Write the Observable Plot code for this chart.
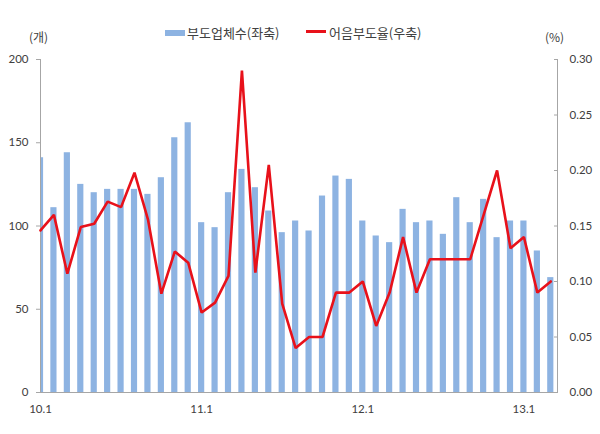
<!DOCTYPE html>
<html><head><meta charset="utf-8">
<script src="https://cdn.jsdelivr.net/npm/d3@7"></script>
<script src="https://cdn.jsdelivr.net/npm/@observablehq/plot@0.6"></script>
<style>
body{margin:0;background:#fff;}
#wrap{position:relative;width:600px;height:434px;font-family:"Noto Sans CJK KR","Noto Sans",sans-serif;color:#404040;overflow:hidden;}
#wrap svg{position:absolute;left:0;top:0;}
.lg{position:absolute;font-size:13px;line-height:13px;white-space:nowrap;}
.sw{position:absolute;}
.unit{position:absolute;font-size:12px;line-height:12px;white-space:nowrap;}
</style></head><body>
<div id="wrap">
  <div class="unit" style="left:29px;top:31px;">(개)</div>
  <div class="unit" style="left:545px;top:31px;">(%)</div>
  <div class="sw" style="left:165px;top:30px;width:20px;height:6px;background:#8db3e2;"></div>
  <div class="lg" style="left:187px;top:26px;">부도업체수(좌축)</div>
  <div class="sw" style="left:306px;top:30px;width:20px;height:3px;background:#e8111a;"></div>
  <div class="lg" style="left:329px;top:26px;">어음부도율(우축)</div>
</div>
<script>
const months = ["10.1","10.2","10.3","10.4","10.5","10.6","10.7","10.8","10.9","10.10","10.11","10.12",
  "11.1","11.2","11.3","11.4","11.5","11.6","11.7","11.8","11.9","11.10","11.11","11.12",
  "12.1","12.2","12.3","12.4","12.5","12.6","12.7","12.8","12.9","12.10","12.11","12.12",
  "13.1","13.2","13.3"];
const counts = [141,111,144,125,120,122,122,122,119,129,153,162,
  102,99,120,134,123,109,96,103,97,118,130,128,
  103,94,90,110,102,103,95,117,102,116,93,103,
  103,85,69];
const rates = [0.146,0.160,0.107,0.149,0.152,0.172,0.167,0.198,0.156,0.089,0.127,0.117,
  0.072,0.081,0.105,0.290,0.108,0.205,0.080,0.040,0.050,0.050,0.090,0.090,
  0.100,0.060,0.090,0.140,0.090,0.120,0.120,0.120,0.120,0.160,0.200,0.130,
  0.140,0.090,0.100];
const leftTicks = [0,50,100,150,200];
const rightTicks = [0,0.05,0.10,0.15,0.20,0.25,0.30];
const xTickMonths = ["10.1","11.1","12.1","13.1"];
const leftMax = 200, rightMax = 0.30;

const toLeft = r => r * leftMax / rightMax;
const data = months.map((m, i) => ({i, month: m, count: counts[i], rate: rates[i]}));
const axisColor = "#a6a6a6";

const chart = Plot.plot({
  width: 600,
  height: 434,
  marginTop: 59,
  marginBottom: 42,
  marginLeft: 40,
  marginRight: 43,
  style: {fontFamily: "Lato, 'Noto Sans', sans-serif", fontSize: "11.5px", color: "#404040", background: "transparent"},
  x: {type: "linear", domain: [0, months.length - 0.5], axis: null},
  y: {domain: [0, leftMax], axis: null},
  marks: [
    Plot.rectY(data, {x1: d => d.i - 0.23, x2: d => d.i + 0.23, y: "count", fill: "#8db3e2", clip: true}),
    Plot.ruleX([0, months.length - 0.5], {stroke: axisColor, strokeWidth: 1}),
    Plot.ruleY([0], {stroke: axisColor, strokeWidth: 1}),
    Plot.line(data, {x: "i", y: d => toLeft(d.rate), stroke: "#e8111a", strokeWidth: 2.6, strokeLinejoin: "miter"}),
    Plot.axisY(leftTicks, {anchor: "left", tickSize: 4, tickPadding: 8, label: null, stroke: axisColor}),
    Plot.axisY(rightTicks.map(toLeft), {anchor: "right", tickSize: 4, dx: -4, label: null, stroke: axisColor, tickFormat: () => ""}),
    Plot.axisY(rightTicks.map(toLeft), {anchor: "right", tickSize: 0, tickPadding: 12, label: null, tickFormat: v => (v * rightMax / leftMax).toFixed(2)}),
    Plot.axisX(xTickMonths.map(m => months.indexOf(m)), {anchor: "bottom", tickSize: 0, tickPadding: 12, label: null, tickFormat: i => months[i]})
  ]
});
document.getElementById("wrap").prepend(chart);
</script>
</body></html>
